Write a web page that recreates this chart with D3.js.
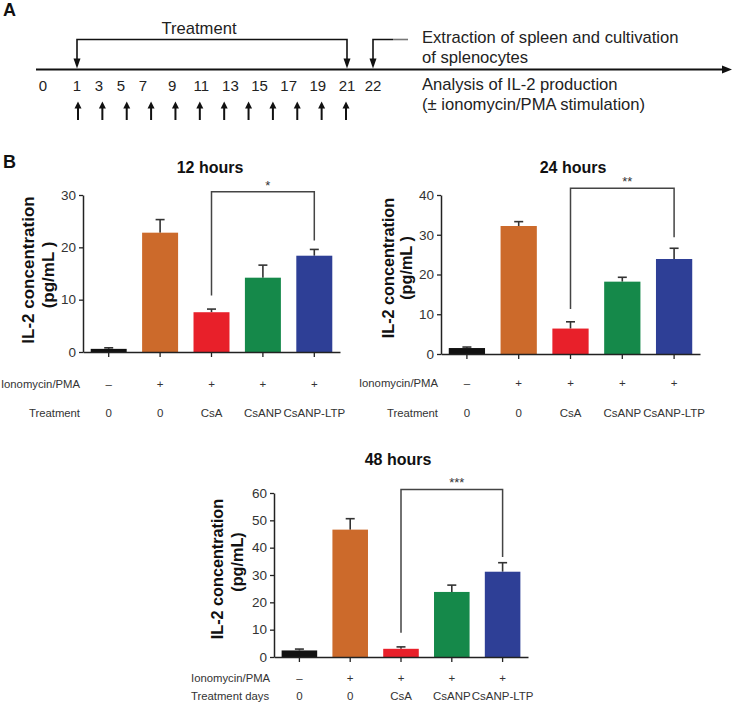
<!DOCTYPE html>
<html><head><meta charset="utf-8">
<script src="https://cdn.jsdelivr.net/npm/d3@7"></script>
<style>
body{margin:0;background:#fff}
svg{display:block}
text{font-family:"Liberation Sans",Arial,Helvetica,sans-serif}
</style>
</head><body>
<svg id="c" width="734" height="702"></svg>
<script>
// ---------- Panel A data ----------
const dayLabels = ["0","1","3","5","7","9","11","13","15","17","19","21","22"];
const dayValues = [0,1,3,5,7,9,11,13,15,17,19,21,22];
const doses = ["1","2","3","4","5","6","7","8","9","10","11","12"];
const treatmentStart = 1, treatmentEnd = 21, extractionDay = 22;
const panelATexts = ["Extraction of spleen and cultivation","of splenocytes","Analysis of IL-2 production","(± ionomycin/PMA stimulation)"];

// ---------- Panel B data ----------
const groups = ["g1","g2","g3","g4","g5"];
const ionoLabels = ["–","+","+","+","+"];
const treatLabels = ["0","0","CsA","CsANP","CsANP-LTP"];
const barColors = ["#111111","#cc6a2b","#e8202a","#15894a","#2e3f96"];

const mean12 = [0.6, 22.8, 7.6, 14.2, 18.4];
const upper12 = [0.8, 25.3, 8.2, 16.6, 19.6];
const mean24 = [1.5, 32.2, 6.4, 18.2, 23.9];
const upper24 = [1.75, 33.3, 8.1, 19.3, 26.6];
const mean48 = [2.4, 46.6, 3.0, 23.8, 31.2];
const upper48 = [2.9, 50.6, 3.7, 26.3, 34.5];

const ticks12 = [0,10,20,30];
const ticks24 = [0,10,20,30,40];
const ticks48 = [0,10,20,30,40,50,60];

// significance brackets: [left leg end, top, right leg end] in data units (CsA vs CsANP-LTP)
const sig12 = [10.8, 30.6, 21.3];
const sig24 = [11.3, 41.7, 29.4];
const sig48 = [8.9, 61.3, 36.6];
const sigLabels = ["*","**","***"];

const svg = d3.select("#c");
const ink = "#222";

function arrowHead(g, x, y, dir, w, h){
  let pts;
  if(dir==="down") pts=[[x-w/2,y-h],[x+w/2,y-h],[x,y]];
  else if(dir==="up") pts=[[x-w/2,y+h],[x+w/2,y+h],[x,y]];
  else pts=[[x-h,y-w/2],[x-h,y+w/2],[x,y]];
  g.append("polygon").attr("points",pts.map(p=>p.join(",")).join(" ")).attr("fill","#111");
}

// ================= PANEL A =================
(function(){
  const g = svg.append("g");
  g.append("text").attr("x",3).attr("y",16).attr("font-size",18).attr("font-weight","bold").attr("fill","#111").text("A");

  const dayX = d3.scaleLinear().domain([0,1,7,21,22]).range([43,77,143,347,373]);
  const doseX = d3.scalePoint().domain(doses).range([78,346]);
  const lineY = 69.5;

  g.append("line").attr("x1",36).attr("x2",724).attr("y1",lineY).attr("y2",lineY).attr("stroke","#111").attr("stroke-width",2.2);
  arrowHead(g, 732, lineY, "right", 8, 10);

  const topY = 39.5;
  g.append("path").attr("d",`M${dayX(treatmentStart)},${lineY-8} V${topY} H${dayX(treatmentEnd)} V${lineY-8}`)
    .attr("fill","none").attr("stroke","#111").attr("stroke-width",1.6);
  arrowHead(g, dayX(treatmentStart), lineY-1, "down", 7, 10);
  arrowHead(g, dayX(treatmentEnd), lineY-1, "down", 7, 10);
  g.append("text").attr("x",(dayX(treatmentStart)+dayX(treatmentEnd))/2-13).attr("y",34).attr("text-anchor","middle")
    .attr("font-size",16.6).attr("fill",ink).text("Treatment");

  g.append("path").attr("d",`M${dayX(extractionDay)},${lineY-8} V${topY} H${dayX(extractionDay)+20}`)
    .attr("fill","none").attr("stroke","#111").attr("stroke-width",1.6);
  g.append("line").attr("x1",dayX(extractionDay)+20).attr("x2",dayX(extractionDay)+35).attr("y1",topY).attr("y2",topY)
    .attr("stroke","#777").attr("stroke-width",1.6);
  arrowHead(g, dayX(extractionDay), lineY-1, "down", 7, 10);

  g.selectAll("text.day").data(dayValues).join("text").attr("class","day")
    .attr("x",d=>dayX(d)).attr("y",91).attr("text-anchor","middle").attr("font-size",15).attr("fill",ink)
    .text((d,i)=>dayLabels[i]);

  doses.forEach(d=>{
    const x = doseX(d);
    g.append("line").attr("x1",x).attr("x2",x).attr("y1",120).attr("y2",107).attr("stroke","#111").attr("stroke-width",2);
    arrowHead(g, x, 101.5, "up", 7, 7);
  });

  const ys = [42.5,62.5,89.5,109.5];
  panelATexts.forEach((t,i)=>{
    g.append("text").attr("x",422).attr("y",ys[i]).attr("font-size",16.6).attr("fill",ink).text(t);
  });
})();

// ================= PANEL B =================
svg.append("text").attr("x",3).attr("y",168).attr("font-size",18).attr("font-weight","bold").attr("fill","#111").text("B");

function panel(o){
  const g = svg.append("g");
  const x = d3.scaleBand().domain(groups).range([o.x0,o.x1]).paddingInner(0.3).paddingOuter(0.15);
  const y = d3.scaleLinear().domain([0,o.max]).range([o.yb,o.yt]);
  const cx = i => x(groups[i]) + x.bandwidth()/2;

  g.append("text").attr("x",o.titleX).attr("y",o.titleY).attr("text-anchor","middle")
    .attr("font-size",16).attr("font-weight","bold").attr("fill","#111").text(o.title);

  o.mean.forEach((m,i)=>{
    g.append("line").attr("x1",cx(i)).attr("x2",cx(i)).attr("y1",y(m)).attr("y2",y(o.upper[i]))
      .attr("stroke","#333").attr("stroke-width",1.6);
    g.append("line").attr("x1",cx(i)-4.5).attr("x2",cx(i)+4.5).attr("y1",y(o.upper[i])).attr("y2",y(o.upper[i]))
      .attr("stroke","#333").attr("stroke-width",1.6);
  });

  g.selectAll("rect.bar").data(o.mean).join("rect").attr("class","bar")
    .attr("x",(d,i)=>x(groups[i])).attr("y",d=>y(d))
    .attr("width",x.bandwidth()).attr("height",d=>y(0)-y(d))
    .attr("fill",(d,i)=>barColors[i]);

  const ya = g.append("g").attr("transform",`translate(${o.x0},0)`)
    .call(d3.axisLeft(y).tickValues(o.ticks).tickSize(4).tickSizeOuter(0).tickPadding(3).tickFormat(d3.format("d")));
  ya.select(".domain").attr("stroke","#222").attr("stroke-width",1.5);
  ya.selectAll(".tick line").attr("stroke","#222").attr("stroke-width",1.3);
  ya.selectAll(".tick text").attr("font-size",13.5).attr("fill","#333").style("font-family",'"Liberation Sans",Arial,sans-serif');

  const xa = g.append("g").attr("transform",`translate(0,${o.yb})`)
    .call(d3.axisBottom(x).tickSize(5).tickSizeOuter(0).tickFormat(""));
  xa.select(".domain").attr("stroke","#222").attr("stroke-width",1.5);
  xa.selectAll(".tick line").attr("stroke","#222").attr("stroke-width",1.3);

  g.append("text").attr("transform",`translate(${o.yl1x},${o.yl1y}) rotate(-90)`).attr("text-anchor","middle")
    .attr("dominant-baseline","central").attr("font-size",o.ylSize).attr("font-weight","bold").attr("fill","#111").text("IL-2 concentration");
  g.append("text").attr("transform",`translate(${o.yl2x},${o.yl2y}) rotate(-90)`).attr("text-anchor","middle")
    .attr("dominant-baseline","central").attr("font-size",o.ylSize).attr("font-weight","bold").attr("fill","#111").text(o.unit);

  const s = o.sig;
  g.append("path").attr("d",`M${cx(2)},${y(s[0])} V${y(s[1])} H${cx(4)} V${y(s[2])}`)
    .attr("fill","none").attr("stroke","#444").attr("stroke-width",1.5);
  g.append("text").attr("x",(cx(2)+cx(4))/2+5).attr("y",y(s[1])-2).attr("text-anchor","middle")
    .attr("font-size",13).attr("fill","#333").text(o.sigLabel);

  g.append("text").attr("x",o.labX).attr("y",o.row1).attr("text-anchor",o.labAnchor).attr("dominant-baseline","central")
    .attr("font-size",11.3).attr("fill","#333").text("Ionomycin/PMA");
  g.append("text").attr("x",o.labX).attr("y",o.row2).attr("text-anchor",o.labAnchor).attr("dominant-baseline","central")
    .attr("font-size",11.3).attr("fill","#333").text(o.treatTitle);
  g.selectAll("text.iono").data(ionoLabels).join("text").attr("class","iono")
    .attr("x",(d,i)=>cx(i)).attr("y",o.row1).attr("text-anchor","middle").attr("dominant-baseline","central")
    .attr("font-size",11.5).attr("fill","#333").text(d=>d);
  g.selectAll("text.treat").data(treatLabels).join("text").attr("class","treat")
    .attr("x",(d,i)=>cx(i)).attr("y",o.row2).attr("text-anchor","middle").attr("dominant-baseline","central")
    .attr("font-size",11.5).attr("fill","#333").text(d=>d);
}

panel({title:"12 hours", titleX:210, titleY:173, x0:83, x1:340, yt:195, yb:352, max:30, ticks:ticks12,
  mean:mean12, upper:upper12, sig:sig12, sigLabel:sigLabels[0],
  yl1x:28, yl1y:270, yl2x:48, yl2y:275, ylSize:17, unit:"(pg/mL )",
  labX:80, labAnchor:"end", row1:384, row2:413, treatTitle:"Treatment"});

panel({title:"24 hours", titleX:573, titleY:173, x0:441, x1:700, yt:195, yb:354, max:40, ticks:ticks24,
  mean:mean24, upper:upper24, sig:sig24, sigLabel:sigLabels[1],
  yl1x:388, yl1y:268, yl2x:406, yl2y:268, ylSize:16.2, unit:"(pg/mL )",
  labX:438, labAnchor:"end", row1:383, row2:413, treatTitle:"Treatment"});

panel({title:"48 hours", titleX:398, titleY:465, x0:274, x1:528, yt:493, yb:657, max:60, ticks:ticks48,
  mean:mean48, upper:upper48, sig:sig48, sigLabel:sigLabels[2],
  yl1x:217, yl1y:569, yl2x:237, yl2y:562, ylSize:16.2, unit:"(pg/mL)",
  labX:191, labAnchor:"start", row1:678, row2:696, treatTitle:"Treatment days"});
</script>
</body></html>
